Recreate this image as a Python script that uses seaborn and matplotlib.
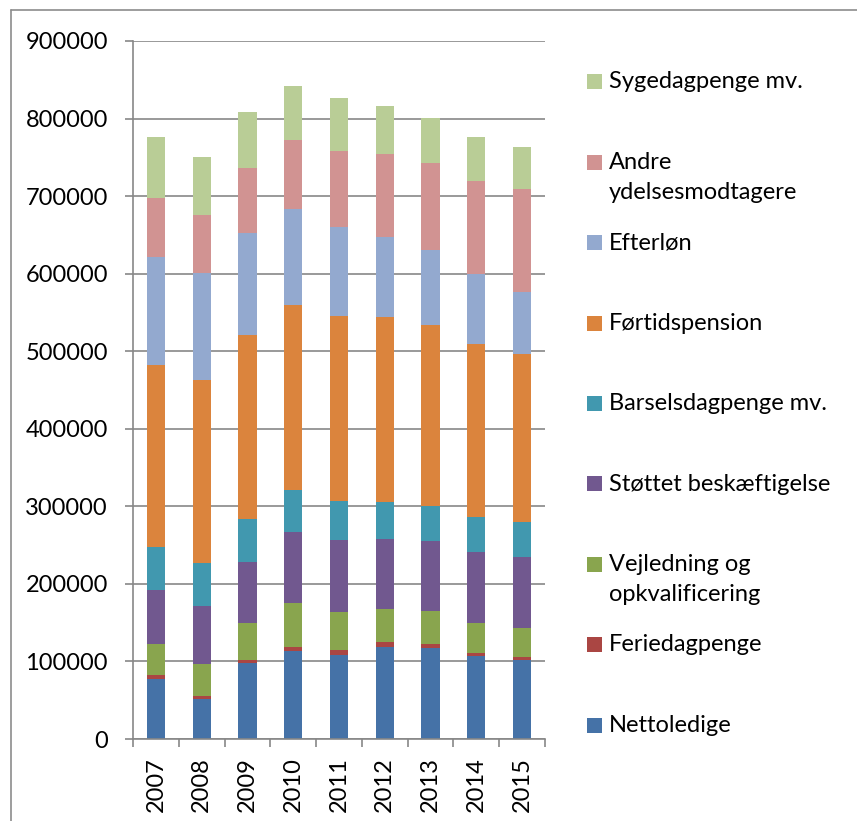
import numpy as np
import seaborn as sns
import matplotlib.pyplot as plt
from matplotlib.lines import Line2D
from matplotlib.patches import Rectangle

sns.set_style("white")
plt.rcParams['font.family'] = ['Lato', 'DejaVu Sans']

years = ['2007', '2008', '2009', '2010', '2011', '2012', '2013', '2014', '2015']

nettoledige = [77000, 51000, 97500, 113000, 107700, 118000, 116700, 106500, 101700]
feriedagpenge = [6000, 5000, 4000, 6000, 7300, 7000, 6000, 4500, 4300]
vejledning = [39000, 41000, 47500, 57000, 48500, 43000, 42000, 38000, 37700]
stoettet = [70000, 74000, 79000, 91000, 93500, 90000, 90000, 92500, 91000]
barsel = [56000, 56000, 56000, 54000, 50000, 48000, 45500, 45000, 45500]
foertid = [234500, 236000, 237500, 239000, 238500, 237500, 233500, 223000, 216000]
efterloen = [139500, 138000, 131500, 124000, 115000, 103500, 97000, 89500, 80000]
andre = [76000, 75000, 83500, 88000, 98000, 107000, 111500, 121000, 132500]
syge = [78000, 75000, 71500, 69500, 67500, 62000, 58500, 56500, 54500]

names = ['Nettoledige', 'Feriedagpenge', 'Vejledning og\nopkvalificering',
         'Støttet beskæftigelse', 'Barselsdagpenge mv.', 'Førtidspension',
         'Efterløn', 'Andre\nydelsesmodtagere', 'Sygedagpenge mv.']
series = [nettoledige, feriedagpenge, vejledning, stoettet, barsel,
          foertid, efterloen, andre, syge]
colors = ['#4572A7', '#AA4643', '#89A54E', '#71588F', '#4198AF',
          '#DB843D', '#93A9CF', '#D19392', '#B9CD96']

W, H = 857, 821
fs = 17
fig = plt.figure(figsize=(W / 100, H / 100), dpi=100)
ax = fig.add_axes([133 / W, 1 - 739 / H, (545 - 133) / W, (739 - 41) / H])

bottom = np.zeros(len(years))
for vals, col in zip(series, colors):
    sns.barplot(x=years, y=vals, bottom=bottom, color=col, saturation=1,
                width=0.4, errorbar=None, linewidth=0, ax=ax)
    bottom = bottom + np.array(vals)

grey = '#878787'
ax.set_xlim(-0.5, 8.5)
ax.set_ylim(0, 900000)
ax.set_yticks(np.arange(0, 900001, 100000))
ax.set_yticklabels([str(v) for v in range(0, 900001, 100000)])
ax.yaxis.grid(True, color=grey, lw=1.2)
ax.xaxis.grid(False)
ax.set_axisbelow(True)
for s in ['top', 'right']:
    ax.spines[s].set_visible(False)
for s in ['left', 'bottom']:
    ax.spines[s].set_color(grey)
    ax.spines[s].set_linewidth(1.2)

ax.tick_params(axis='y', left=True, length=6, width=1.2, color=grey,
               direction='out', pad=12, labelsize=fs, labelcolor='black')
ax.set_xticks(np.arange(-0.5, 9, 1), minor=True)
ax.tick_params(axis='x', which='major', length=0, pad=13, labelsize=fs,
               labelrotation=90, labelcolor='black')
ax.tick_params(axis='x', which='minor', bottom=True, length=6, width=1.2,
               color=grey, direction='out')
ax.set_xlabel('')
ax.set_ylabel('')

# legend, reversed, marker aligned with first text line
for i, (name, col) in enumerate(zip(names[::-1], colors[::-1])):
    yc = 82 + 80.4 * i
    fig.add_artist(Rectangle((587 / W, 1 - (yc + 7.5) / H), 15 / W, 15 / H,
                             transform=fig.transFigure, color=col, lw=0))
    for j, line in enumerate(name.split('\n')):
        fig.text(609 / W, 1 - (yc + 30 * j) / H, line, fontsize=fs,
                 va='center', ha='left', color='black')

# outer chart border (left and top)
fig.add_artist(Line2D([11 / W, 11 / W], [0, 1 - 10 / H], transform=fig.transFigure,
                      color='#8c8c8c', lw=1.2))
fig.add_artist(Line2D([11 / W, 1], [1 - 10 / H, 1 - 10 / H], transform=fig.transFigure,
                      color='#8c8c8c', lw=1.2))

fig.savefig('out.png', dpi=100)
